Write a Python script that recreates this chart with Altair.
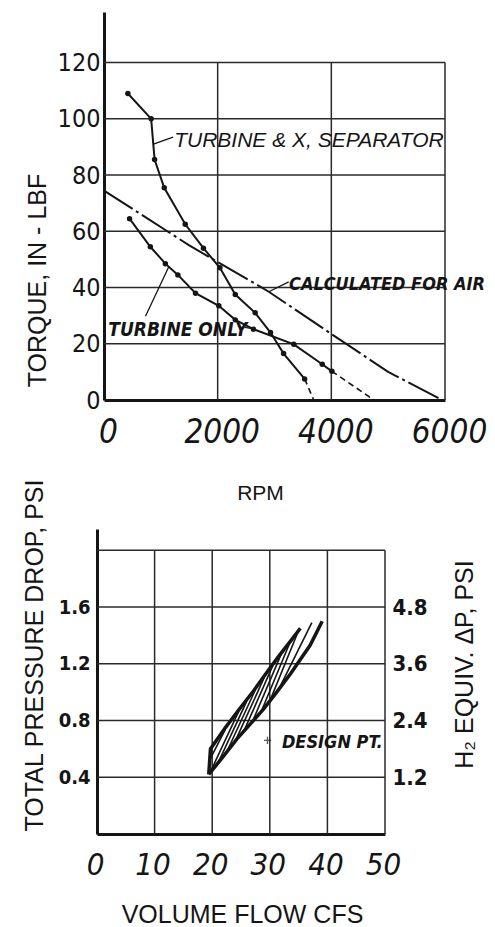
import altair as alt
import pandas as pd

# ---------------- Top chart: torque vs RPM ----------------
xsep_rpm = [420, 830, 890, 1060, 1430, 1750, 2040, 2310, 2660, 2930, 3160, 3530]
xsep_torque = [109, 100, 85.5, 75.5, 62.5, 54, 47, 37.5, 31, 24, 16.5, 7.5]
xsep_ext_rpm = [3530, 3690]
xsep_ext_torque = [7.5, 0]

turb_rpm = [450, 815, 1080, 1300, 1610, 2020, 2310, 2630, 3340, 3840, 4010]
turb_torque = [64.5, 54.5, 48.5, 44.5, 38, 33.5, 28.5, 25.2, 19.8, 12.7, 10.2]
turb_ext_rpm = [4010, 4750]
turb_ext_torque = [10.2, 0]

air_rpm = [0, 1500, 2900, 4000, 5000, 5950]
air_torque = [74.5, 55, 38.5, 23.5, 10, 0]

rpm_ticks = [0, 2000, 4000, 6000]
torque_ticks = [0, 20, 40, 60, 80, 100, 120]
rpm_grid = [2000, 4000, 6000]
torque_grid = [20, 40, 60, 80, 100, 120]

top_labels = ["TURBINE & X, SEPARATOR", "CALCULATED FOR AIR", "TURBINE ONLY"]
top_label_rpm = [1235, 3255, 1300]
top_label_torque = [92, 41, 25]

# leader lines (from curve to label)
lead_rpm = [870, 2900, 730, 2480]
lead_torque = [91, 38.5, 29.8, 25.8]
lead_rpm2 = [1215, 3250, 1140, 2640]
lead_torque2 = [93.5, 42, 47.4, 25.3]

# ---------------- Bottom chart: pressure drop vs flow ----------------
band_upper_cfs = [19.4, 19.7, 22.3, 24.9, 27.2, 29.5, 31.5, 33.6, 35.3]
band_upper_psi = [0.42, 0.60, 0.75, 0.89, 1.01, 1.14, 1.25, 1.36, 1.45]
band_lower_cfs = [19.4, 22.0, 24.3, 26.6, 28.9, 31.2, 33.6, 35.3, 37.0, 39.1]
band_lower_psi = [0.42, 0.55, 0.67, 0.775, 0.88, 1.00, 1.13, 1.23, 1.33, 1.50]

hatch_cfs0 = [19.55, 19.6, 21.0, 22.5, 24.0, 25.5, 27.0, 28.5, 30.0, 31.5]
hatch_psi0 = [0.52, 0.43, 0.50, 0.576, 0.655, 0.725, 0.793, 0.862, 0.937, 1.016]
hatch_cfs1 = [22.3, 24.6, 26.0, 27.5, 29.0, 30.5, 32.0, 33.5, 35.0, 37.3]
hatch_psi1 = [0.74, 0.864, 0.937, 1.017, 1.10, 1.185, 1.27, 1.35, 1.435, 1.49]

design_cfs = [29.6]
design_psi = [0.66]
design_label = ["DESIGN PT."]
design_label_cfs = [32.1]
design_label_psi = [0.645]

cfs_ticks = [0, 10, 20, 30, 40, 50]
psi_ticks = [0.4, 0.8, 1.2, 1.6]
h2_ticks = [1.2, 2.4, 3.6, 4.8]
cfs_grid = [10, 20, 30, 40, 50]
psi_grid = [0.4, 0.8, 1.2, 1.6, 2.0]

INK = "#151515"
GRID = "#2a2a2a"
NARROW = "DejaVu Sans Condensed, DejaVu Sans, sans-serif"
SANS = "Liberation Sans, Arial, sans-serif"

# ---------- top chart ----------
SHIFT = 7  # top plot starts 7px right of the shared left edge
T_W, T_H = 341 + SHIFT, 388
t_xscale = alt.Scale(domain=[0, 6000], nice=False, zero=False,
                     range=[SHIFT, T_W])
t_yscale = alt.Scale(domain=[0, 138], nice=False, zero=False)
t_xaxis = alt.Axis(values=rpm_ticks, format="d", grid=False, ticks=False,
                   domain=True, domainWidth=3, domainColor=INK,
                   labelFont=NARROW, labelFontSize=33, labelFontStyle="italic",
                   labelColor=INK, labelPadding=16, labelOffset=4,
                   labelFlush=False, labelOverlap=False,
                   title="RPM", titleFont=SANS, titleFontSize=21,
                   titleFontWeight="normal", titleColor=INK,
                   titleX=156 + SHIFT, titleY=93, titleAlign="center",
                   titleBaseline="middle")
t_yaxis = alt.Axis(values=torque_ticks, format="d", grid=False, ticks=False,
                   domain=True, domainWidth=3, domainColor=INK, offset=-SHIFT,
                   labelFont=NARROW, labelFontSize=25, labelColor=INK,
                   labelPadding=4, labelFlush=False, labelOverlap=False,
                   title="TORQUE, IN - LBF", titleFont=SANS, titleFontSize=25,
                   titleFontWeight="normal", titleColor=INK, titleAngle=270,
                   titleX=-67, titleY=268, titleAlign="center",
                   titleBaseline="middle")


def tx(field):
    return alt.X(field, type="quantitative", scale=t_xscale, axis=t_xaxis)


def ty(field):
    return alt.Y(field, type="quantitative", scale=t_yscale, axis=t_yaxis)


vgrid_t = pd.DataFrame({"x": rpm_grid, "y0": 0, "y1": 120})
hgrid_t = pd.DataFrame({"y": torque_grid, "x0": 0, "x1": 6000})

t_layers = [
    alt.Chart(vgrid_t).mark_rule(color=GRID, strokeWidth=1.5).encode(
        x=tx("x"), y=ty("y0"), y2="y1"),
    alt.Chart(hgrid_t).mark_rule(color=GRID, strokeWidth=1.5).encode(
        y=ty("y"), x=tx("x0"), x2="x1"),
    alt.Chart(pd.DataFrame({"rpm": air_rpm, "torque": air_torque}))
    .mark_line(color=INK, strokeWidth=2, strokeDash=[34, 4, 3, 4]).encode(
        x=tx("rpm"), y=ty("torque")),
    alt.Chart(pd.DataFrame({"rpm": xsep_ext_rpm, "torque": xsep_ext_torque}))
    .mark_line(color=INK, strokeWidth=1.6, strokeDash=[6, 4]).encode(
        x=tx("rpm"), y=ty("torque")),
    alt.Chart(pd.DataFrame({"rpm": turb_ext_rpm, "torque": turb_ext_torque}))
    .mark_line(color=INK, strokeWidth=1.6, strokeDash=[6, 4]).encode(
        x=tx("rpm"), y=ty("torque")),
    alt.Chart(pd.DataFrame({"rpm": xsep_rpm, "torque": xsep_torque}))
    .mark_line(color=INK, strokeWidth=2, point=alt.OverlayMarkDef(
        filled=True, color=INK, size=30)).encode(
        x=tx("rpm"), y=ty("torque")),
    alt.Chart(pd.DataFrame({"rpm": turb_rpm, "torque": turb_torque}))
    .mark_line(color=INK, strokeWidth=2, point=alt.OverlayMarkDef(
        filled=True, color=INK, size=30)).encode(
        x=tx("rpm"), y=ty("torque")),
    alt.Chart(pd.DataFrame({"x": lead_rpm, "y": lead_torque,
                            "x2": lead_rpm2, "y2": lead_torque2}))
    .mark_rule(color=INK, strokeWidth=1.3).encode(
        x=tx("x"), y=ty("y"), x2="x2", y2="y2"),
]

top_ann = pd.DataFrame({"rpm": top_label_rpm, "torque": top_label_torque,
                        "label": top_labels})
t_layers += [
    alt.Chart(top_ann.iloc[[0]]).mark_text(
        align="left", baseline="middle", font=SANS, fontSize=21,
        fontStyle="italic", color=INK).encode(
        x=tx("rpm"), y=ty("torque"), text="label:N"),
    alt.Chart(top_ann.iloc[[1]]).mark_text(
        align="left", baseline="middle", font=NARROW, fontSize=18,
        fontStyle="italic", fontWeight="bold", color=INK).encode(
        x=tx("rpm"), y=ty("torque"), text="label:N"),
    alt.Chart(top_ann.iloc[[2]]).mark_text(
        align="center", baseline="middle", font=NARROW, fontSize=19,
        fontStyle="italic", fontWeight="bold", color=INK).encode(
        x=tx("rpm"), y=ty("torque"), text="label:N"),
]

top = alt.layer(*t_layers).properties(width=T_W, height=T_H)

# ---------- bottom chart ----------
B_W, B_H = 288, 305
b_xscale = alt.Scale(domain=[0, 50], nice=False, zero=False)
b_yscale = alt.Scale(domain=[0, 2.15], nice=False, zero=False)
b_xaxis = alt.Axis(values=cfs_ticks, format="d", grid=False, ticks=False,
                   domain=True, domainWidth=3, domainColor=INK,
                   labelFont=NARROW, labelFontSize=31, labelFontStyle="italic",
                   labelColor=INK, labelPadding=16, labelOffset=-2,
                   labelFlush=False, labelOverlap=False,
                   title="VOLUME FLOW CFS", titleFont=SANS, titleFontSize=25,
                   titleFontWeight="normal", titleColor=INK,
                   titleX=145, titleY=80, titleAlign="center",
                   titleBaseline="middle")
b_yaxis = alt.Axis(values=psi_ticks, format=".1f", grid=False, ticks=False,
                   domain=True, domainWidth=3, domainColor=INK,
                   labelFont=NARROW, labelFontSize=20, labelFontWeight="bold",
                   labelColor=INK, labelPadding=7, labelFlush=False,
                   labelOverlap=False,
                   title="TOTAL PRESSURE DROP, PSI", titleFont=SANS,
                   titleFontSize=25, titleFontWeight="normal", titleColor=INK,
                   titleAngle=270, titleX=-63, titleY=126, titleAlign="center",
                   titleBaseline="middle")


def bx(field):
    return alt.X(field, type="quantitative", scale=b_xscale, axis=b_xaxis)


def by(field):
    return alt.Y(field, type="quantitative", scale=b_yscale, axis=b_yaxis)


vgrid_b = pd.DataFrame({"x": cfs_grid, "y0": 0, "y1": 2.0})
hgrid_b = pd.DataFrame({"y": psi_grid, "x0": 0, "x1": 50})

upper_df = pd.DataFrame({"cfs": band_upper_cfs, "psi": band_upper_psi,
                         "o": list(range(len(band_upper_cfs)))})
lower_df = pd.DataFrame({"cfs": band_lower_cfs, "psi": band_lower_psi,
                         "o": list(range(len(band_lower_cfs)))})
hatch_df = pd.DataFrame({"x": hatch_cfs0, "y": hatch_psi0,
                         "x2": hatch_cfs1, "y2": hatch_psi1})

b_left = [
    alt.Chart(vgrid_b).mark_rule(color=GRID, strokeWidth=1.5).encode(
        x=bx("x"), y=by("y0"), y2="y1"),
    alt.Chart(hgrid_b).mark_rule(color=GRID, strokeWidth=1.5).encode(
        y=by("y"), x=bx("x0"), x2="x1"),
    alt.Chart(hatch_df).mark_rule(color=INK, strokeWidth=1.6).encode(
        x=bx("x"), y=by("y"), x2="x2", y2="y2"),
    alt.Chart(upper_df).mark_line(color=INK, strokeWidth=3.5).encode(
        x=bx("cfs"), y=by("psi"), order="o:Q"),
    alt.Chart(lower_df).mark_line(color=INK, strokeWidth=3.5).encode(
        x=bx("cfs"), y=by("psi"), order="o:Q"),
    alt.Chart(pd.DataFrame({"cfs": design_cfs, "psi": design_psi}))
    .mark_point(shape="M-1,0L1,0M0,-1L0,1", size=50, color=INK,
                strokeWidth=1.4, filled=False).encode(
        x=bx("cfs"), y=by("psi")),
    alt.Chart(pd.DataFrame({"cfs": design_label_cfs, "psi": design_label_psi,
                            "label": design_label}))
    .mark_text(align="left", baseline="middle", font=NARROW, fontSize=18,
               fontStyle="italic", fontWeight="bold", color=INK).encode(
        x=bx("cfs"), y=by("psi"), text="label:N"),
]

h2_axis = alt.Axis(values=h2_ticks, format=".1f", grid=False, ticks=False,
                   domain=False, orient="right",
                   labelFont=NARROW, labelFontSize=22, labelFontWeight="bold",
                   labelColor=INK, labelPadding=7, labelFlush=False,
                   labelOverlap=False,
                   title="H₂ EQUIV. ΔP, PSI", titleFont=SANS, titleFontSize=25,
                   titleFontWeight="normal", titleColor=INK, titleAngle=270,
                   titleX=79, titleY=135, titleAlign="center",
                   titleBaseline="middle")
h2_layer = alt.Chart(pd.DataFrame({"h2": h2_ticks})).mark_point(
    opacity=0).encode(
    y=alt.Y("h2:Q", scale=alt.Scale(domain=[0, 6.45], nice=False, zero=False),
            axis=h2_axis))

bottom = alt.layer(alt.layer(*b_left), h2_layer).resolve_scale(
    y="independent").properties(width=B_W, height=B_H)

chart = alt.vconcat(top, bottom, spacing=-25).properties(
    padding={"left": 13, "top": 4, "right": 0, "bottom": 0},
    background="white",
).configure_view(stroke=None)

chart.save("out.html", embed_options={"renderer": "svg", "actions": False})
